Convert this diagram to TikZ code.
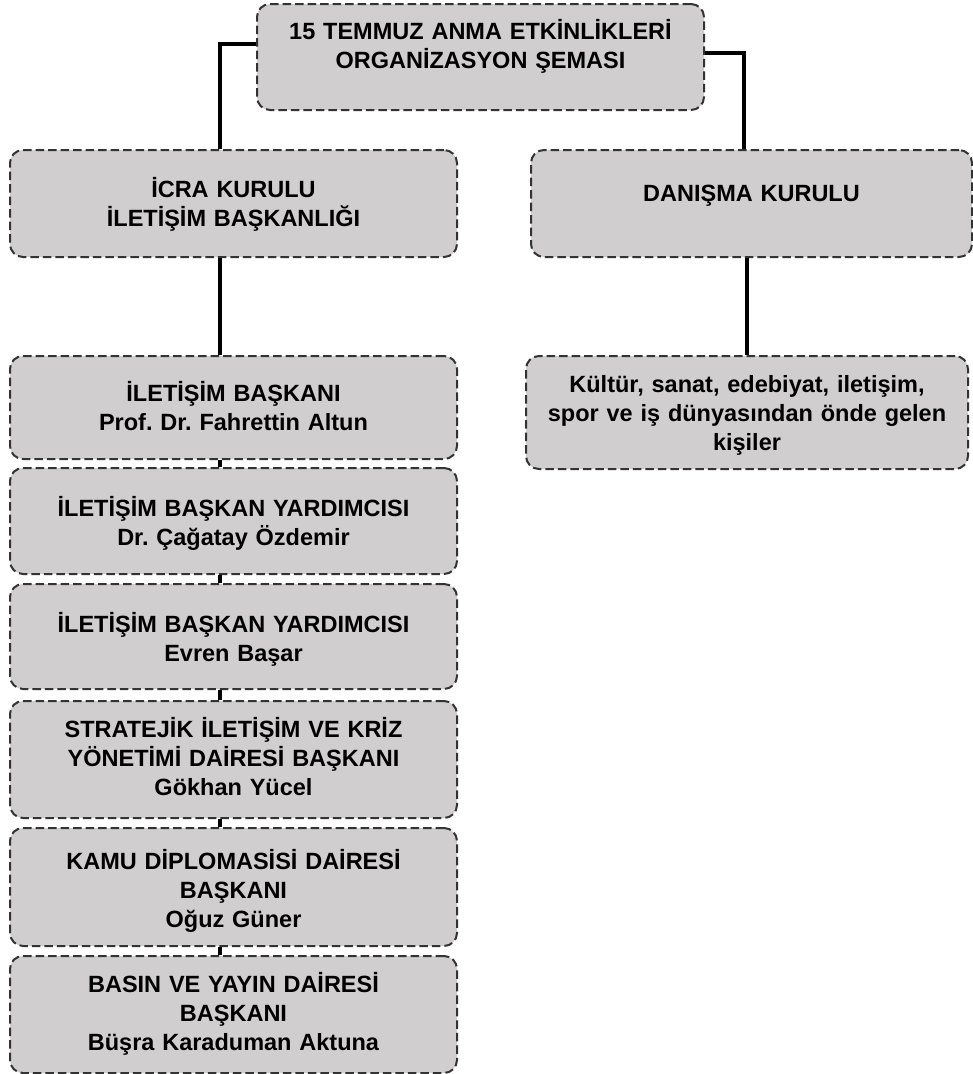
\documentclass[tikz,border=0pt]{standalone}
\usepackage{fontspec}
\setmainfont{Liberation Sans}
\frenchspacing
\definecolor{boxgray}{RGB}{208,206,206}
\tikzset{
orgbox/.style={draw=black!80, fill=boxgray, dash pattern=on 8.5pt off 4pt, line width=2pt, rounded corners=13pt, anchor=north, inner sep=0pt, align=center, text width=425pt, text=black, font=\bfseries\fontsize{23.5}{29}\selectfont}, % dashed grey boxes
link/.style={line width=3.2pt}, % connecting lines
}
\begin{document}
\begin{tikzpicture}[x=1pt, y=-1pt]
        \useasboundingbox (0,0) rectangle (973,1074);
        % top of the chart
        \node[orgbox, minimum width=447pt, text height=35.4pt, text depth=70.6pt] at (480.5,3) (top) {15 TEMMUZ ANMA ETKİNLİKLERİ\\ORGANİZASYON ŞEMASI};
        \node[orgbox, minimum width=447pt, text height=47.4pt, text depth=59.6pt] at (233.5,149) (icra) {İCRA KURULU\\İLETİŞİM BAŞKANLIĞI};
        \node[orgbox, minimum width=441pt, text height=51.4pt, text depth=55.6pt] at (751.5,149) (dan) {DANIŞMA KURULU};
        \node[orgbox, minimum width=442pt, text height=36.4pt, text depth=76.6pt] at (747,355) (kul) {Kültür, sanat, edebiyat, iletişim,\\spor ve iş dünyasından önde gelen\\kişiler};
        % left column
        \node[orgbox, minimum width=447pt, text height=45.4pt, text depth=57.6pt] at (233.5,355) (b1) {İLETİŞİM BAŞKANI\\Prof. Dr. Fahrettin Altun};
        \node[orgbox, minimum width=447pt, text height=48.4pt, text depth=57.6pt] at (233.5,467) (b2) {İLETİŞİM BAŞKAN YARDIMCISI\\Dr. Çağatay Özdemir};
        \node[orgbox, minimum width=447pt, text height=48.4pt, text depth=56.6pt] at (233.5,583) (b3) {İLETİŞİM BAŞKAN YARDIMCISI\\Evren Başar};
        \node[orgbox, minimum width=447pt, text height=36.4pt, text depth=80.6pt] at (233.5,700) (b4) {STRATEJİK İLETİŞİM VE KRİZ\\YÖNETİMİ DAİRESİ BAŞKANI\\Gökhan Yücel};
        \node[orgbox, minimum width=447pt, text height=41.4pt, text depth=76.6pt] at (233.5,827) (b5) {KAMU DİPLOMASİSİ DAİRESİ\\BAŞKANI\\Oğuz Güner};
        \node[orgbox, minimum width=447pt, text height=36.4pt, text depth=80.6pt] at (233.5,955) (b6) {BASIN VE YAYIN DAİRESİ\\BAŞKANI\\Büşra Karaduman Aktuna};
        \draw[link]
        ([yshift=13pt]top.west) -| ([xshift=-13.5pt]icra.north)
        ([yshift=4pt]top.east) -| ([xshift=-7.5pt]dan.north)
        ([xshift=-13.5pt]icra.south) -- ([xshift=-13.5pt]b1.north)
        (kul.north) -- (kul.north |- dan.south)
        ([xshift=-13.5pt]b1.south) -- ([xshift=-13.5pt]b2.north)
        ([xshift=-13.5pt]b2.south) -- ([xshift=-13.5pt]b3.north)
        ([xshift=-13.5pt]b3.south) -- ([xshift=-13.5pt]b4.north)
        ([xshift=-13.5pt]b4.south) -- ([xshift=-13.5pt]b5.north)
        ([xshift=-13.5pt]b5.south) -- ([xshift=-13.5pt]b6.north)
        ;
    \end{tikzpicture}
\end{document}
